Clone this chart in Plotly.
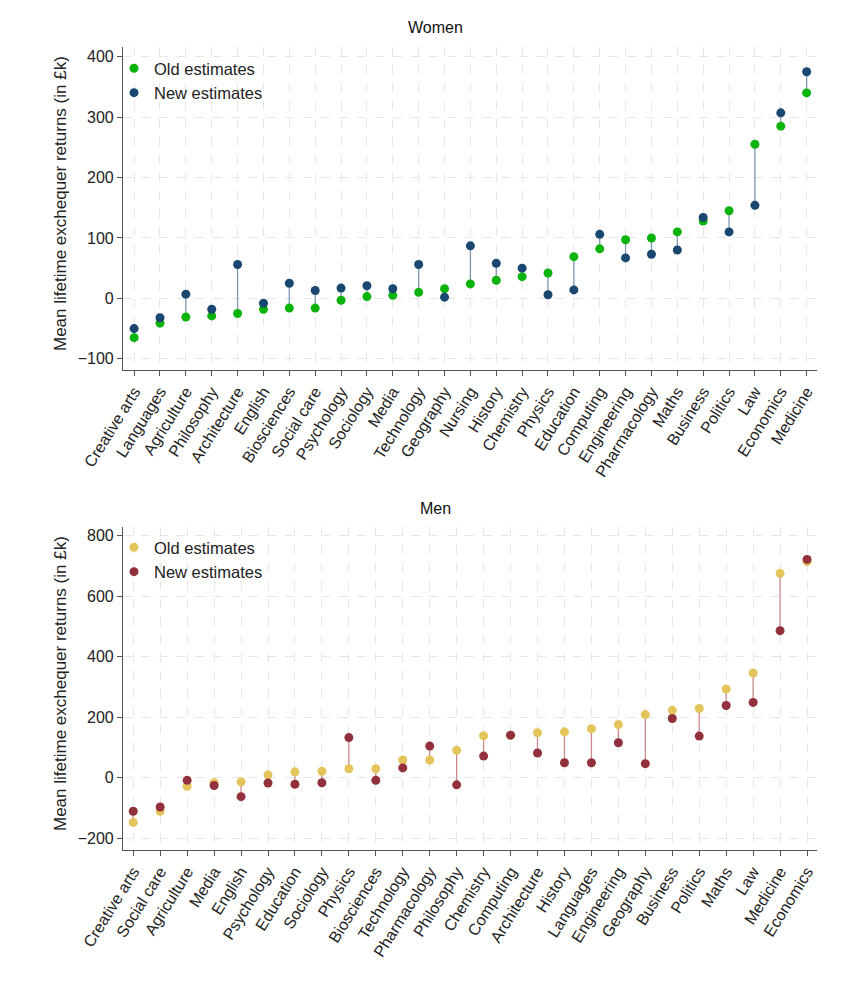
import plotly.graph_objects as go

# ---------------- Data ----------------
women_subjects = ["Creative arts", "Languages", "Agriculture", "Philosophy", "Architecture",
                  "English", "Biosciences", "Social care", "Psychology", "Sociology", "Media",
                  "Technology", "Geography", "Nursing", "History", "Chemistry", "Physics",
                  "Education", "Computing", "Engineering", "Pharmacology", "Maths", "Business",
                  "Politics", "Law", "Economics", "Medicine"]
women_old = [-65, -41, -31, -29, -25, -18, -16, -16, -3, 3, 5, 10, 16, 24, 30, 36, 42,
             69, 82, 97, 100, 110, 128, 145, 255, 285, 340]
women_new = [-50, -32, 7, -18, 56, -8, 25, 13, 17, 21, 16, 56, 2, 87, 58, 50, 6,
             14, 106, 67, 73, 80, 134, 110, 154, 307, 375]

men_subjects = ["Creative arts", "Social care", "Agriculture", "Media", "English", "Psychology",
                "Education", "Sociology", "Physics", "Biosciences", "Technology", "Pharmacology",
                "Philosophy", "Chemistry", "Computing", "Architecture", "History", "Languages",
                "Engineering", "Geography", "Business", "Politics", "Maths", "Law", "Medicine",
                "Economics"]
men_old = [-147, -110, -28, -16, -13, 10, 20, 22, 30, 30, 59, 59, 91, 139, 141, 149, 152,
           162, 176, 209, 223, 229, 293, 346, 675, 714]
men_new = [-110, -96, -8, -25, -62, -17, -21, -16, 133, -8, 33, 105, -23, 72, 141, 82, 50,
           50, 116, 47, 196, 138, 239, 249, 486, 721]

women_yticks = [-100, 0, 100, 200, 300, 400]
men_yticks = [-200, 0, 200, 400, 600, 800]

# ---------------- Styles ----------------
GREEN = "#0db30d"
NAVY = "#1a476f"
W_LINE = "#7f98b2"
SAND = "#e3c55c"
MAROON = "#92313b"
M_LINE = "#c98a8e"
FONT = "Liberation Sans, Arial, sans-serif"

fig = go.Figure()


def add_panel(subjects, old, new, xa, ya, c_old, c_new, c_line, legend):
    lx, ly = [], []
    for s, o, n in zip(subjects, old, new):
        lx += [s, s, None]
        ly += [o, n, None]
    fig.add_trace(go.Scatter(x=lx, y=ly, mode="lines", line=dict(color=c_line, width=1.3),
                             xaxis=xa, yaxis=ya, showlegend=False, hoverinfo="skip"))
    fig.add_trace(go.Scatter(x=subjects, y=old, mode="markers", name="Old estimates",
                             marker=dict(color=c_old, size=9), xaxis=xa, yaxis=ya,
                             legend=legend))
    fig.add_trace(go.Scatter(x=subjects, y=new, mode="markers", name="New estimates",
                             marker=dict(color=c_new, size=9), xaxis=xa, yaxis=ya,
                             legend=legend))


add_panel(women_subjects, women_old, women_new, "x", "y", GREEN, NAVY, W_LINE, "legend")
add_panel(men_subjects, men_old, men_new, "x2", "y2", SAND, MAROON, M_LINE, "legend2")

# Geometry (pixels): plots span x 123..817; top y 47..370, bottom y 527..850
L, R, T, B = 123, 31, 47, 133
H = 983
plot_h = H - T - B
plot_w = 848 - L - R
top_dom = [(850 - 370) / plot_h, 1.0]
bot_dom = [0.0, (850 - 527) / plot_h]


def py(pix):
    return (850 - pix) / plot_h


def px(pix):
    return (pix - L) / plot_w


axis_common = dict(
    showline=True, linecolor="#555555", linewidth=1.2,
    ticks="outside", ticklen=5, tickcolor="#555555", tickwidth=1,
    showgrid=True, gridcolor="#e6e6e6", griddash="dash", gridwidth=1,
    zeroline=False, tickfont=dict(family=FONT, size=16, color="#222222"),
)

leg_font = dict(family=FONT, size=16.5, color="#222222")

fig.update_layout(
    width=848, height=983,
    margin=dict(l=L, r=R, t=T, b=B),
    paper_bgcolor="white", plot_bgcolor="white",
    font=dict(family=FONT, size=15, color="#222222"),
    xaxis=dict(axis_common, domain=[0, 1], anchor="y", type="category",
               range=[-0.43, 26.4], tickangle=-58),
    yaxis=dict(axis_common, domain=top_dom, anchor="x", range=[-118.5, 416],
               tickvals=women_yticks),
    xaxis2=dict(axis_common, domain=[0, 1], anchor="y2", type="category",
                range=[-0.38, 25.37], tickangle=-58),
    yaxis2=dict(axis_common, domain=bot_dom, anchor="x2", range=[-238, 828],
                tickvals=men_yticks),
    legend=dict(x=px(114), y=py(51), xanchor="left", yanchor="top",
                bgcolor="rgba(0,0,0,0)", font=leg_font, tracegroupgap=0, itemwidth=30),
    legend2=dict(x=px(114), y=py(530), xanchor="left", yanchor="top",
                 bgcolor="rgba(0,0,0,0)", font=leg_font, itemwidth=30),
    showlegend=True,
)

fig.add_annotation(text="Women", x=px(435), y=py(28), xref="paper", yref="paper",
                   xanchor="center", yanchor="middle",
                   showarrow=False, font=dict(family=FONT, size=16, color="#111111"))
fig.add_annotation(text="Men", x=px(435), y=py(508), xref="paper", yref="paper",
                   xanchor="center", yanchor="middle",
                   showarrow=False, font=dict(family=FONT, size=16, color="#111111"))
for yc in (204, 684):
    fig.add_annotation(text="Mean lifetime exchequer returns (in £k)", x=px(60), y=py(yc),
                       xref="paper", yref="paper", textangle=-90, showarrow=False,
                       xanchor="center", yanchor="middle",
                       font=dict(family=FONT, size=17, color="#222222"))

fig.write_html("out.html")
